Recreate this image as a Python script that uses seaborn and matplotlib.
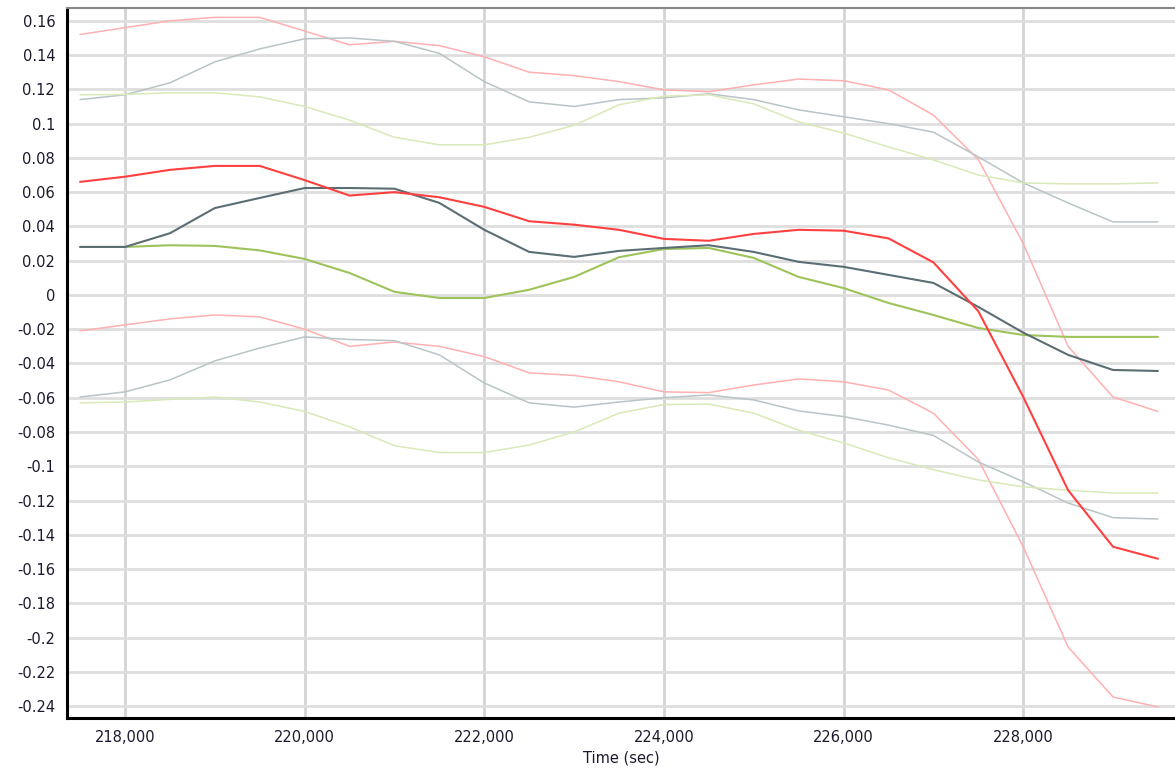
import matplotlib
matplotlib.use("Agg")
import matplotlib.pyplot as plt
from matplotlib.ticker import FuncFormatter, MultipleLocator
import seaborn as sns
import pandas as pd

time_sec = [217500, 218000, 218500, 219000, 219500, 220000, 220500, 221000,
            221500, 222000, 222500, 223000, 223500, 224000, 224500, 225000,
            225500, 226000, 226500, 227000, 227500, 228000, 228500, 229000,
            229500]

red_mid = [0.066, 0.069, 0.073, 0.0753, 0.0753, 0.067, 0.058, 0.060,
           0.057, 0.0514, 0.043, 0.041, 0.038, 0.0327, 0.0316, 0.0356,
           0.038, 0.0375, 0.033, 0.019, -0.0095, -0.0595, -0.114, -0.147,
           -0.154]
red_hi = [0.152, 0.156, 0.160, 0.162, 0.162, 0.154, 0.146, 0.148,
          0.1455, 0.139, 0.130, 0.128, 0.1245, 0.1197, 0.1186, 0.1226,
          0.126, 0.125, 0.1197, 0.105, 0.079, 0.030, -0.030, -0.0596,
          -0.068]
red_lo = [-0.021, -0.0175, -0.014, -0.0117, -0.0128, -0.020, -0.030, -0.0275,
          -0.030, -0.036, -0.0455, -0.047, -0.0507, -0.0566, -0.057, -0.0526,
          -0.049, -0.0507, -0.0555, -0.069, -0.096, -0.147, -0.2055, -0.2347,
          -0.2405]

gray_mid = [0.028, 0.028, 0.036, 0.0507, 0.0566, 0.0624, 0.0624, 0.062,
            0.0537, 0.038, 0.0251, 0.0222, 0.0257, 0.0274, 0.029, 0.0251,
            0.0193, 0.0164, 0.0117, 0.007, -0.007, -0.022, -0.035, -0.0438,
            -0.0444]
gray_hi = [0.114, 0.1168, 0.1238, 0.136, 0.1436, 0.1495, 0.150, 0.148,
           0.141, 0.1245, 0.1127, 0.110, 0.114, 0.115, 0.1174, 0.114,
           0.108, 0.104, 0.100, 0.095, 0.0806, 0.0654, 0.0537, 0.0426,
           0.0426]
gray_lo = [-0.0596, -0.0566, -0.0496, -0.0385, -0.031, -0.0245, -0.026, -0.0267,
           -0.035, -0.0514, -0.063, -0.0655, -0.0625, -0.060, -0.0584, -0.0613,
           -0.0677, -0.071, -0.076, -0.082, -0.0975, -0.109, -0.1215, -0.130,
           -0.1308]

green_mid = [0.028, 0.028, 0.029, 0.0286, 0.026, 0.021, 0.0128, 0.0018,
             -0.0018, -0.0018, 0.003, 0.0105, 0.022, 0.0268, 0.0274, 0.0216,
             0.0105, 0.004, -0.0047, -0.0117, -0.0193, -0.0234, -0.0245, -0.0245,
             -0.0245]
green_hi = [0.1168, 0.117, 0.118, 0.118, 0.1156, 0.110, 0.102, 0.092,
            0.0876, 0.0876, 0.092, 0.099, 0.111, 0.116, 0.1168, 0.1115,
            0.101, 0.0945, 0.0864, 0.0788, 0.070, 0.0654, 0.0648, 0.0648,
            0.0654]
green_lo = [-0.063, -0.0625, -0.061, -0.0596, -0.0625, -0.068, -0.077, -0.088,
            -0.092, -0.092, -0.0876, -0.080, -0.069, -0.064, -0.0637, -0.069,
            -0.079, -0.0864, -0.095, -0.102, -0.108, -0.112, -0.114, -0.1156,
            -0.1156]

# (values, colour, width) -- bounds first so the centre lines sit on top
series = [
    (red_hi, "#ffb0b0", 1.1), (red_lo, "#ffb0b0", 1.1),
    (gray_hi, "#b9c4c7", 1.1), (gray_lo, "#b9c4c7", 1.1),
    (green_hi, "#d9e9b8", 1.1), (green_lo, "#d9e9b8", 1.1),
    (green_mid, "#9dc35a", 1.5), (gray_mid, "#5b6e73", 1.5),
    (red_mid, "#ff4040", 1.5),
]

sns.set_style("white")
plt.rcParams['font.family'] = ['DejaVu Sans']

fig = plt.figure(figsize=(11.75, 7.78), dpi=100)
ax = fig.add_axes([0.057, 0.077, 0.943, 0.913])

for vals, col, lw in series:
    df = pd.DataFrame({"t": time_sec, "v": vals})
    sns.lineplot(data=df, x="t", y="v", ax=ax, color=col, linewidth=lw)

ax.set_xlim(217354, 229690)
ax.set_ylim(-0.247, 0.1676)

ax.xaxis.set_major_locator(MultipleLocator(2000))
ax.xaxis.set_minor_locator(MultipleLocator(400))
ax.yaxis.set_major_locator(MultipleLocator(0.02))
ax.yaxis.set_minor_locator(MultipleLocator(0.004))
ax.xaxis.set_major_formatter(FuncFormatter(lambda v, p: f"{int(round(v)):,}"))
ax.yaxis.set_major_formatter(FuncFormatter(lambda v, p: f"{round(v, 2):g}"))

ax.grid(True, which="major", axis="x", color="#d4d4d4", linewidth=2)
ax.grid(True, which="major", axis="y", color="#dedede", linewidth=2)
ax.set_axisbelow(True)

ax.tick_params(axis="both", which="major", labelsize=10.5, colors="#555555",
               labelcolor="#1a1a2e", length=5, width=1)
ax.tick_params(axis="both", which="minor", colors="#999999", length=3, width=1)

for side in ["left", "bottom"]:
    ax.spines[side].set_color("black")
    ax.spines[side].set_linewidth(2.2)
ax.spines["top"].set_color("#888888")
ax.spines["top"].set_linewidth(1.5)
ax.spines["right"].set_visible(False)

ax.set_xlabel("Time (sec)", fontsize=10.5, color="#1a1a2e", labelpad=4)
ax.set_ylabel("")

plt.savefig("out.png", dpi=100)
